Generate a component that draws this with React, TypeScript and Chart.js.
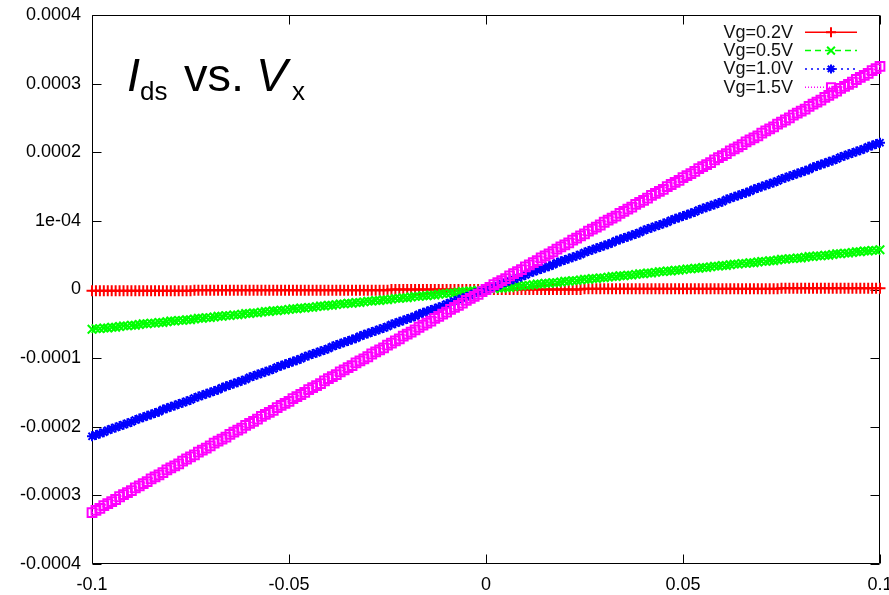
import React, { useEffect, useRef } from 'react';
import { Chart, registerables } from 'chart.js';

Chart.register(...registerables);

// Drain-source voltage sweep, in mV
const VX_MV = [
  -100, -99, -98, -97, -96, -95, -94, -93, -92, -91,
  -90, -89, -88, -87, -86, -85, -84, -83, -82, -81,
  -80, -79, -78, -77, -76, -75, -74, -73, -72, -71,
  -70, -69, -68, -67, -66, -65, -64, -63, -62, -61,
  -60, -59, -58, -57, -56, -55, -54, -53, -52, -51,
  -50, -49, -48, -47, -46, -45, -44, -43, -42, -41,
  -40, -39, -38, -37, -36, -35, -34, -33, -32, -31,
  -30, -29, -28, -27, -26, -25, -24, -23, -22, -21,
  -20, -19, -18, -17, -16, -15, -14, -13, -12, -11,
  -10, -9, -8, -7, -6, -5, -4, -3, -2, -1,
  0,
  1, 2, 3, 4, 5, 6, 7, 8, 9, 10,
  11, 12, 13, 14, 15, 16, 17, 18, 19, 20,
  21, 22, 23, 24, 25, 26, 27, 28, 29, 30,
  31, 32, 33, 34, 35, 36, 37, 38, 39, 40,
  41, 42, 43, 44, 45, 46, 47, 48, 49, 50,
  51, 52, 53, 54, 55, 56, 57, 58, 59, 60,
  61, 62, 63, 64, 65, 66, 67, 68, 69, 70,
  71, 72, 73, 74, 75, 76, 77, 78, 79, 80,
  81, 82, 83, 84, 85, 86, 87, 88, 89, 90,
  91, 92, 93, 94, 95, 96, 97, 98, 99, 100,
];

// Drain current in microamperes, one value per VX_MV point
const ID_VG02_UA = [
  -2, -2, -2, -2, -2, -2, -2, -2, -2, -2,
  -2, -2, -2, -2, -2, -2, -2, -2, -2, -2,
  -2, -2, -2, -2, -2, -2, -1, -1, -1, -1,
  -1, -1, -1, -1, -1, -1, -1, -1, -1, -1,
  -1, -1, -1, -1, -1, -1, -1, -1, -1, -1,
  -1, -1, -1, -1, -1, -1, -1, -1, -1, -1,
  -1, -1, -1, -1, -1, -1, -1, -1, -1, -1,
  -1, -1, -1, -1, -1, -1, 0, 0, 0, 0,
  0, 0, 0, 0, 0, 0, 0, 0, 0, 0,
  0, 0, 0, 0, 0, 0, 0, 0, 0, 0,
  0,
  0, 0, 0, 0, 0, 0, 0, 0, 0, 0,
  0, 0, 0, 0, 0, 0, 0, 0, 0, 0,
  0, 0, 0, 0, 1, 1, 1, 1, 1, 1,
  1, 1, 1, 1, 1, 1, 1, 1, 1, 1,
  1, 1, 1, 1, 1, 1, 1, 1, 1, 1,
  1, 1, 1, 1, 1, 1, 1, 1, 1, 1,
  1, 1, 1, 1, 1, 1, 1, 1, 1, 1,
  1, 1, 1, 1, 2, 2, 2, 2, 2, 2,
  2, 2, 2, 2, 2, 2, 2, 2, 2, 2,
  2, 2, 2, 2, 2, 2, 2, 2, 2, 2,
];

const ID_VG05_UA = [
  -58, -57, -57, -56, -56, -55, -55, -54, -53, -53,
  -52, -52, -51, -50, -50, -49, -49, -48, -48, -47,
  -46, -46, -45, -45, -44, -44, -43, -42, -42, -41,
  -41, -40, -39, -39, -38, -38, -37, -37, -36, -35,
  -35, -34, -34, -33, -32, -32, -31, -31, -30, -30,
  -29, -28, -28, -27, -27, -26, -26, -25, -24, -24,
  -23, -23, -22, -21, -21, -20, -20, -19, -19, -18,
  -17, -17, -16, -16, -15, -15, -14, -13, -13, -12,
  -12, -11, -10, -10, -9, -9, -8, -8, -7, -6,
  -6, -5, -5, -4, -3, -3, -2, -2, -1, -1,
  0,
  1, 1, 2, 2, 3, 3, 4, 5, 5, 6,
  6, 7, 8, 8, 9, 9, 10, 10, 11, 12,
  12, 13, 13, 14, 15, 15, 16, 16, 17, 17,
  18, 19, 19, 20, 20, 21, 21, 22, 23, 23,
  24, 24, 25, 26, 26, 27, 27, 28, 28, 29,
  30, 30, 31, 31, 32, 32, 33, 34, 34, 35,
  35, 36, 37, 37, 38, 38, 39, 39, 40, 41,
  41, 42, 42, 43, 44, 44, 45, 45, 46, 46,
  47, 48, 48, 49, 49, 50, 50, 51, 52, 52,
  53, 53, 54, 55, 55, 56, 56, 57, 57, 58,
];

const ID_VG10_UA = [
  -214, -212, -210, -208, -205, -203, -201, -199, -197, -195,
  -193, -190, -188, -186, -184, -182, -180, -178, -175, -173,
  -171, -169, -167, -165, -163, -161, -158, -156, -154, -152,
  -150, -148, -146, -143, -141, -139, -137, -135, -133, -131,
  -128, -126, -124, -122, -120, -118, -116, -113, -111, -109,
  -107, -105, -103, -101, -98, -96, -94, -92, -90, -88,
  -86, -83, -81, -79, -77, -75, -73, -71, -68, -66,
  -64, -62, -60, -58, -56, -54, -51, -49, -47, -45,
  -43, -41, -39, -36, -34, -32, -30, -28, -26, -24,
  -21, -19, -17, -15, -13, -11, -9, -6, -4, -2,
  0,
  2, 4, 6, 9, 11, 13, 15, 17, 19, 21,
  24, 26, 28, 30, 32, 34, 36, 39, 41, 43,
  45, 47, 49, 51, 54, 56, 58, 60, 62, 64,
  66, 68, 71, 73, 75, 77, 79, 81, 83, 86,
  88, 90, 92, 94, 96, 98, 101, 103, 105, 107,
  109, 111, 113, 116, 118, 120, 122, 124, 126, 128,
  131, 133, 135, 137, 139, 141, 143, 146, 148, 150,
  152, 154, 156, 158, 161, 163, 165, 167, 169, 171,
  173, 175, 178, 180, 182, 184, 186, 188, 190, 193,
  195, 197, 199, 201, 203, 205, 208, 210, 212, 214,
];

const ID_VG15_UA = [
  -325, -322, -319, -315, -312, -309, -306, -302, -299, -296,
  -293, -289, -286, -283, -280, -276, -273, -270, -267, -263,
  -260, -257, -254, -250, -247, -244, -241, -237, -234, -231,
  -228, -224, -221, -218, -215, -211, -208, -205, -202, -198,
  -195, -192, -189, -185, -182, -179, -176, -172, -169, -166,
  -163, -159, -156, -153, -150, -146, -143, -140, -137, -133,
  -130, -127, -124, -120, -117, -114, -111, -107, -104, -101,
  -98, -94, -91, -88, -85, -81, -78, -75, -72, -68,
  -65, -62, -59, -55, -52, -49, -46, -42, -39, -36,
  -33, -29, -26, -23, -20, -16, -13, -10, -7, -3,
  0,
  3, 7, 10, 13, 16, 20, 23, 26, 29, 33,
  36, 39, 42, 46, 49, 52, 55, 59, 62, 65,
  68, 72, 75, 78, 81, 85, 88, 91, 94, 98,
  101, 104, 107, 111, 114, 117, 120, 124, 127, 130,
  133, 137, 140, 143, 146, 150, 153, 156, 159, 163,
  166, 169, 172, 176, 179, 182, 185, 189, 192, 195,
  198, 202, 205, 208, 211, 215, 218, 221, 224, 228,
  231, 234, 237, 241, 244, 247, 250, 254, 257, 260,
  263, 267, 270, 273, 276, 280, 283, 286, 289, 293,
  296, 299, 302, 306, 309, 312, 315, 319, 322, 325,
];

const SERIES_LABELS = ['Vg=0.2V', 'Vg=0.5V', 'Vg=1.0V', 'Vg=1.5V'];

const X_TICKS = [-0.1, -0.05, 0, 0.05, 0.1];
const X_TICK_LABELS = ['-0.1', '-0.05', '0', '0.05', '0.1'];
const Y_TICKS = [-0.0004, -0.0003, -0.0002, -0.0001, 0, 0.0001, 0.0002, 0.0003, 0.0004];
const Y_TICK_LABELS = ['-0.0004', '-0.0003', '-0.0002', '-0.0001', '0', '1e-04', '0.0002', '0.0003', '0.0004'];

const FONT = '"Liberation Sans", Arial, Helvetica, sans-serif';

type MarkerStyle = 'cross' | 'crossRot' | 'star' | 'rect';

const SERIES_STYLE: { color: string; dash: number[]; marker: MarkerStyle; r: number }[] = [
  { color: '#ff0000', dash: [], marker: 'cross', r: 5.5 },
  { color: '#00ff00', dash: [6, 4], marker: 'crossRot', r: 6 },
  { color: '#0000ff', dash: [2, 4], marker: 'star', r: 5 },
  { color: '#ff00ff', dash: [1, 2], marker: 'rect', r: 6.2 },
];

const SERIES_VALUES = [ID_VG02_UA, ID_VG05_UA, ID_VG10_UA, ID_VG15_UA];

function drawMarker(ctx: CanvasRenderingContext2D, style: MarkerStyle, x: number, y: number, r: number) {
  ctx.beginPath();
  if (style === 'cross' || style === 'star') {
    ctx.moveTo(x - r, y);
    ctx.lineTo(x + r, y);
    ctx.moveTo(x, y - r);
    ctx.lineTo(x, y + r);
  }
  if (style === 'crossRot' || style === 'star') {
    const o = r * Math.SQRT1_2;
    ctx.moveTo(x - o, y - o);
    ctx.lineTo(x + o, y + o);
    ctx.moveTo(x - o, y + o);
    ctx.lineTo(x + o, y - o);
  }
  if (style === 'rect') {
    const s = r * Math.SQRT1_2;
    ctx.rect(x - s, y - s, 2 * s, 2 * s);
  }
  ctx.stroke();
}

const decorPlugin = {
  id: 'gnuplotDecor',
  beforeDatasetsDraw(chart: any) {
    const { ctx, chartArea } = chart;
    const xs = chart.scales.x;
    const ys = chart.scales.y;
    const L = Math.round(chartArea.left) + 0.5;
    const R = Math.round(chartArea.right) - 0.5;
    const T = Math.round(chartArea.top) + 0.5;
    const B = Math.round(chartArea.bottom) - 0.5;
    const tick = 9;
    ctx.save();
    ctx.strokeStyle = '#000';
    ctx.lineWidth = 1;
    ctx.setLineDash([]);
    ctx.beginPath();
    ctx.rect(L, T, R - L, B - T);
    ctx.stroke();
    ctx.beginPath();
    X_TICKS.forEach((v) => {
      const px = Math.round(xs.getPixelForValue(v)) + 0.5;
      ctx.moveTo(px, B);
      ctx.lineTo(px, B - tick);
      ctx.moveTo(px, T);
      ctx.lineTo(px, T + tick);
    });
    Y_TICKS.forEach((v) => {
      const py = Math.round(ys.getPixelForValue(v)) + 0.5;
      ctx.moveTo(L, py);
      ctx.lineTo(L + tick, py);
      ctx.moveTo(R, py);
      ctx.lineTo(R - tick, py);
    });
    ctx.stroke();

    // Title
    ctx.fillStyle = '#000';
    ctx.textBaseline = 'alphabetic';
    ctx.textAlign = 'left';
    ctx.font = `italic 47px ${FONT}`;
    ctx.fillText('I', 127, 91);
    ctx.font = `26px ${FONT}`;
    ctx.fillText('ds', 140, 100);
    ctx.font = `47px ${FONT}`;
    ctx.fillText('vs.', 184, 91);
    ctx.font = `italic 47px ${FONT}`;
    ctx.fillText('V', 256, 91);
    ctx.font = `26px ${FONT}`;
    ctx.fillText('x', 292, 100);

    // Key
    const textRight = 793;
    const lineStart = 805;
    const lineEnd = 857;
    const rowTop = 32.3;
    const rowStep = 18.3;
    ctx.font = `18px ${FONT}`;
    ctx.textAlign = 'right';
    SERIES_LABELS.forEach((label, i) => {
      const st = SERIES_STYLE[i];
      const yy = rowTop + i * rowStep;
      ctx.fillStyle = '#111';
      ctx.fillText(label, textRight, yy + 5.5);
      ctx.strokeStyle = st.color;
      ctx.lineWidth = 1.5;
      ctx.setLineDash(st.dash);
      ctx.beginPath();
      ctx.moveTo(lineStart, yy);
      ctx.lineTo(lineEnd, yy);
      ctx.stroke();
      ctx.setLineDash([]);
      ctx.lineWidth = 2;
      drawMarker(ctx, st.marker, (lineStart + lineEnd) / 2, yy, st.r - 0.5);
    });
    ctx.restore();
  },
};

export default function App() {
  const canvasRef = useRef<HTMLCanvasElement | null>(null);

  useEffect(() => {
    const canvas = canvasRef.current;
    if (!canvas) return;

    const datasets = SERIES_LABELS.map((label, i) => {
      const st = SERIES_STYLE[i];
      const values = SERIES_VALUES[i];
      return {
        label,
        data: VX_MV.map((mv, k) => ({ x: mv / 1000, y: values[k] * 1e-6 })),
        showLine: true,
        borderColor: st.color,
        borderWidth: 1.5,
        borderDash: st.dash,
        backgroundColor: 'rgba(0,0,0,0)',
        pointStyle: st.marker,
        pointRadius: st.r,
        pointBorderColor: st.color,
        pointBackgroundColor: 'rgba(0,0,0,0)',
        pointBorderWidth: 2,
        pointHoverRadius: st.r,
        clip: false as any,
        order: SERIES_LABELS.length - i,
      };
    });

    const chart = new Chart(canvas, {
      type: 'scatter',
      data: { datasets },
      options: {
        animation: false,
        responsive: false,
        devicePixelRatio: 1,
        events: [],
        layout: { padding: { top: 15, right: 9, left: 0, bottom: 0 } },
        plugins: {
          legend: { display: false },
          tooltip: { enabled: false },
          title: { display: false },
        },
        scales: {
          x: {
            type: 'linear',
            min: -0.1,
            max: 0.1,
            afterBuildTicks: (s: any) => {
              s.ticks = X_TICKS.map((v) => ({ value: v }));
            },
            afterFit: (s: any) => {
              s.height = 31;
              s.paddingLeft = 0;
              s.paddingRight = 0;
            },
            ticks: {
              autoSkip: false,
              maxRotation: 0,
              padding: 10,
              color: '#000',
              font: { family: FONT, size: 18 },
              callback: (_v: any, i: number) => X_TICK_LABELS[i],
            },
            grid: { display: false, drawTicks: false },
            border: { display: false },
          },
          y: {
            type: 'linear',
            min: -0.0004,
            max: 0.0004,
            afterBuildTicks: (s: any) => {
              s.ticks = Y_TICKS.map((v) => ({ value: v }));
            },
            afterFit: (s: any) => {
              s.width = 92;
              s.paddingTop = 0;
              s.paddingBottom = 0;
            },
            ticks: {
              autoSkip: false,
              padding: 11,
              color: '#000',
              font: { family: FONT, size: 18 },
              callback: (_v: any, i: number) => Y_TICK_LABELS[i],
            },
            grid: { display: false, drawTicks: false },
            border: { display: false },
          },
        },
      },
      plugins: [decorPlugin],
    });

    return () => {
      chart.destroy();
    };
  }, []);

  return (
    <div style={{ position: 'absolute', left: 0, top: 0, width: 889, height: 595, background: '#fff' }}>
      <canvas ref={canvasRef} width={889} height={595} style={{ display: 'block', width: 889, height: 595 }} />
    </div>
  );
}
